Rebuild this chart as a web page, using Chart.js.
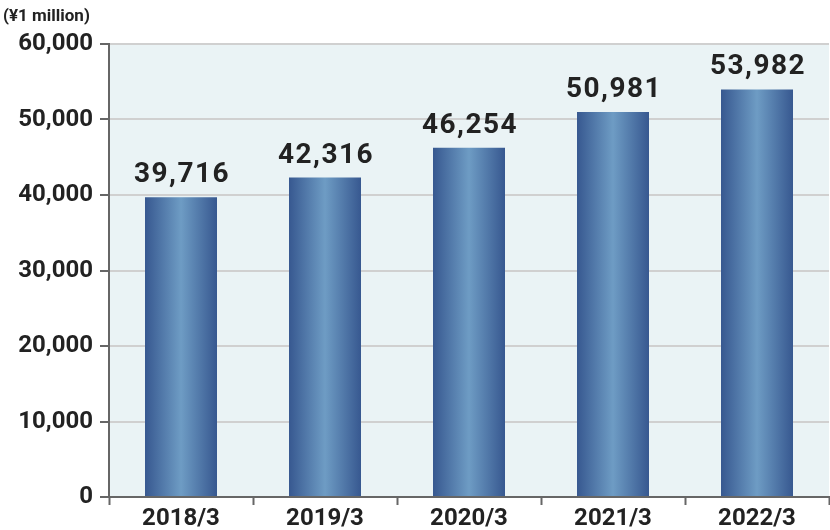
<!DOCTYPE html>
<html>
<head>
<meta charset="utf-8">
<script src="https://cdn.jsdelivr.net/npm/chart.js@4/dist/chart.umd.min.js"></script>
<style>
  html, body { margin: 0; padding: 0; background: #fff; }
  #wrap { width: 830px; height: 530px; position: relative; }
</style>
</head>
<body>
<div id="wrap"><canvas id="c" width="830" height="530"></canvas></div>
<script>
// 데이터
const categories = ['2018/3', '2019/3', '2020/3', '2021/3', '2022/3'];
const sales = [39716, 42316, 46254, 50981, 53982];
const yTicks = [0, 10000, 20000, 30000, 40000, 50000, 60000];
const unitLabel = '(¥1 million)';

const fmt = v => v.toLocaleString('en-US');

// 플롯 배경
const bgPlugin = {
  id: 'bg',
  beforeDraw(chart) {
    const { ctx, chartArea: a } = chart;
    ctx.save();
    ctx.fillStyle = '#eaf3f5';
    ctx.fillRect(a.left, a.top, a.right - a.left, a.bottom - a.top);
    ctx.restore();
  }
};

// 막대별 가로 그라데이션 (options 객체는 공유되므로 복사해서 교체)
const gradPlugin = {
  id: 'grad',
  beforeDatasetsDraw(chart) {
    const ctx = chart.ctx;
    chart.getDatasetMeta(0).data.forEach(bar => {
      const x0 = bar.x - bar.width / 2, x1 = bar.x + bar.width / 2;
      const g = ctx.createLinearGradient(x0, 0, x1, 0);
      g.addColorStop(0, '#375890');
      g.addColorStop(0.5, '#6e9cc4');
      g.addColorStop(1, '#375890');
      bar.options = Object.assign({}, bar.options, { backgroundColor: g });
    });
  }
};

// 값 라벨 + 단위
const labelPlugin = {
  id: 'labels',
  afterDatasetsDraw(chart) {
    const ctx = chart.ctx;
    ctx.save();
    ctx.fillStyle = '#222';
    ctx.textAlign = 'center';
    ctx.textBaseline = 'alphabetic';
    ctx.font = 'bold 28px Roboto';
    ctx.letterSpacing = '1.5px';
    chart.getDatasetMeta(0).data.forEach((bar, i) => {
      ctx.fillText(fmt(sales[i]), bar.x + 1, bar.y - 15);
    });
    ctx.letterSpacing = '0px';
    ctx.textAlign = 'left';
    ctx.font = 'bold 17px Roboto';
    ctx.fillText(unitLabel, 3, 21);
    ctx.restore();
  }
};

new Chart(document.getElementById('c'), {
  type: 'bar',
  data: {
    labels: categories,
    datasets: [{
      data: sales,
      backgroundColor: '#4f77a8',
      barPercentage: 0.5,
      categoryPercentage: 1.0
    }]
  },
  options: {
    responsive: false,
    animation: false,
    layout: { padding: { top: 44, right: 1, left: 0, bottom: 0 } },
    plugins: { legend: { display: false }, tooltip: { enabled: false } },
    scales: {
      x: {
        grid: { drawOnChartArea: false, drawTicks: true, tickLength: 8, tickColor: '#666', tickWidth: 2 },
        border: { color: '#666', width: 2 },
        ticks: { color: '#222', font: { family: 'Roboto', size: 24, weight: 'bold' }, padding: 0 },
        afterFit(s) { s.height = 33; }
      },
      y: {
        min: 0, max: 60000,
        afterBuildTicks(s) { s.ticks = yTicks.map(v => ({ value: v })); },
        grid: { color: '#d0d0d0', lineWidth: 2, tickLength: 9, tickColor: '#666', tickWidth: 2 },
        border: { color: '#666', width: 2 },
        ticks: { color: '#222', font: { family: 'Roboto', size: 24, weight: 'bold' }, padding: 7, callback: v => fmt(v) },
        afterFit(s) { s.width = 109; }
      }
    }
  },
  plugins: [bgPlugin, gradPlugin, labelPlugin]
});
</script>
</body>
</html>
